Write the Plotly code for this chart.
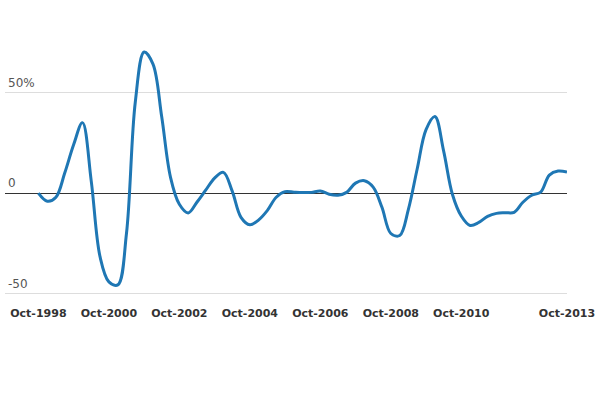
import pandas as pd
import plotly.graph_objects as go

# quarterly values, Oct-1998 .. Oct-2013 (% change)
quarters = pd.date_range('1998-10-01', '2013-10-01', freq='QS-OCT')
values = [0, -4, -2, 10, 24, 35, 6, -31.5, -44, -45.5,
          -20, 45, 70, 64, 38, 8, -5.5, -9.8, -4.5, 1.5,
          7.5, 10.3, 1, -12, -15.7, -13.2, -8.5, -2, 0.8, 0.5,
          0.3, 0.4, 1.1, -0.5, -1, 0.4, 5, 6.2, 3, -7,
          -20, -21, -8, 12, 31.5, 38, 21, -0.5, -11.3, -16,
          -14.5, -11.5, -10, -9.7, -9.5, -4.5, -1, 0.5, 9, 11,
          10.5]

tick_dates = ['1998-10-01', '2000-10-01', '2002-10-01', '2004-10-01',
              '2006-10-01', '2008-10-01', '2010-10-01', '2013-10-01']
tick_labels = ['Oct-1998', 'Oct-2000', 'Oct-2002', 'Oct-2004',
               'Oct-2006', 'Oct-2008', 'Oct-2010', 'Oct-2013']

y_ticks = [-50, 0, 50]
y_labels = ['-50', '0', '50%']

fig = go.Figure(go.Scatter(
    x=quarters, y=values, mode='lines',
    line=dict(color='#1f77b4', width=3, shape='spline', smoothing=1),
    hoverinfo='x+y'
))

fig.update_layout(
    width=600, height=400,
    margin=dict(l=5, r=30, t=42, b=104),
    paper_bgcolor='white', plot_bgcolor='white',
    showlegend=False,
    font=dict(family='DejaVu Sans', color='#555'),
    xaxis=dict(
        range=['1997-10-20', '2013-10-01'],
        tickvals=tick_dates, ticktext=tick_labels,
        tickfont=dict(size=11, color='#333', weight='bold'),
        showgrid=False, showline=False, ticks='',
        ticklabelstandoff=9,
    ),
    yaxis=dict(
        range=[-51, 75],
        tickvals=y_ticks, ticktext=y_labels,
        tickfont=dict(size=12, color='#555'),
        ticklabelposition='inside', ticklabelshift=-10,
        showgrid=True, gridcolor='#dddddd', gridwidth=1,
        zeroline=True, zerolinecolor='#333', zerolinewidth=1,
        showline=False, ticks='',
    ),
)

# drop the page's default body margin so the 600x400 figure fills the window
fig.write_html('out.html', config={'displayModeBar': False},
               post_script="document.body.style.margin='0';")
